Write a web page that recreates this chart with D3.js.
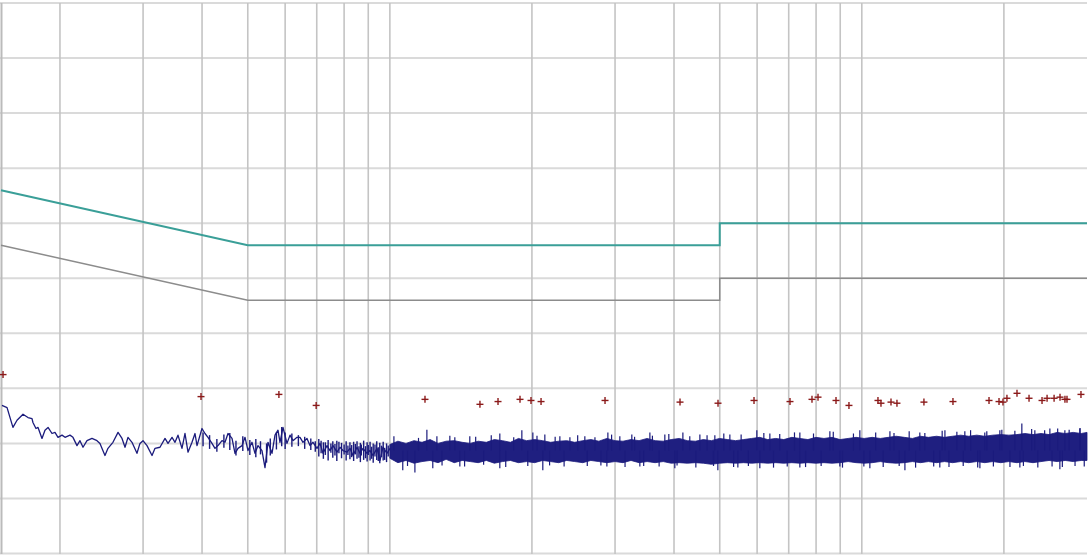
<!DOCTYPE html>
<html><head><meta charset="utf-8">
<script src="https://cdn.jsdelivr.net/npm/d3@7"></script>
<style>html,body{margin:0;padding:0;background:#fff;overflow:hidden}</style>
</head><body><svg id="c" width="1090" height="557"></svg>
<script>
// ---------- data (frequency in MHz, level in dBµV) ----------
const yTicks = [0,10,20,30,40,50,60,70,80,90,100];
const xGridMHz = [0.2,0.3,0.4,0.5,0.6,0.7,0.8,0.9,1,2,3,4,5,6,7,8,9,10,20];
const limitQPFreq = [0.15,0.5,5,5,30];
const limitQPLevel = [66,56,56,60,60];
const limitAVFreq = [0.15,0.5,5,5,30];
const limitAVLevel = [56,46,46,50,50];

const peakFreq = [0.1515,0.398,0.582,0.698,1.187,1.552,1.695,1.887,1.991,2.091,2.857,4.119,4.958,5.910,7.044,7.842,8.076,8.817,9.392,10.82,10.98,11.53,11.87,13.54,15.60,18.60,19.53,19.91,20.30,21.32,22.61,24.09,24.69,25.55,26.30,26.94,27.21,29.13];
const peakLevel = [32.5,28.5,28.9,26.9,28.0,27.1,27.6,28.0,27.8,27.6,27.8,27.5,27.3,27.8,27.6,28.0,28.4,27.8,26.9,27.8,27.3,27.5,27.3,27.5,27.6,27.8,27.6,27.5,28.2,29.1,28.2,27.8,28.2,28.2,28.4,28.0,28.0,28.9];

const traceFreq = [0.1507,0.1545,0.1590,0.1622,0.1670,0.1711,0.1745,0.1753,0.1779,0.1797,0.1832,0.1859,0.1887,0.1924,0.1952,0.1981,0.2020,0.2050,0.2100,0.2131,0.2173,0.2205,0.2238,0.2282,0.2338,0.2396,0.2431,0.2491,0.2528,0.2590,0.2655,0.2707,0.2747,0.2787,0.2842,0.2912,0.2955,0.2999,0.3058,0.3134,0.3180,0.3258,0.3339,0.3388,0.3455,0.3506,0.3557,0.3627,0.3681,0.3735,0.3809,0.3865,0.3903,
0.3999,0.4058,0.4118,0.4199,0.4261,0.4324,0.4409,0.4474,0.4540,0.4630,0.4698,0.4767,0.4861,0.4933,0.5005,0.5104,0.5179,0.5256,0.5359,0.5438,0.5518,0.5627,0.5710,0.5794,0.5851,0.5937,0.6054,0.6144,0.6234,0.6357,0.6451,0.6546,0.6675,0.6773,0.6873,0.7008,0.7112,0.7217,0.7359,0.7467,0.7577,0.7727,0.7841,0.7956,0.8113,0.8233,0.8354,0.8519,0.8644,0.8772,0.8945,0.9076,0.9210,0.9392,0.9530,0.9671,0.9861,1.0007];
const traceLevel = [26.9,26.5,22.9,24.2,25.3,24.7,24.5,23.8,22.7,22.9,20.9,22.4,22.9,21.8,22.0,21.1,21.5,21.1,21.5,21.1,19.6,20.5,19.3,20.5,20.9,20.5,20.0,17.8,19.1,20.2,22.0,20.9,19.3,21.1,20.2,18.2,20.0,20.5,19.6,17.8,19.1,19.3,20.9,20.0,21.1,20.2,21.5,19.1,21.8,18.4,20.2,21.8,19.6,
22.7,21.8,21.1,20.0,19.1,19.6,20.5,20.2,21.8,20.9,18.2,19.1,19.6,21.1,18.7,20.2,18.2,19.6,18.7,15.6,20.2,18.2,21.5,22.4,20.2,22.9,20.0,21.5,20.5,21.1,21.1,20.2,20.9,19.6,20.2,19.1,20.0,18.2,19.6,18.7,19.6,18.4,19.3,18.7,18.4,19.1,17.8,19.3,18.2,19.1,18.2,18.7,17.8,19.1,16.9,19.3,18.2,19.1];

// fine vertical excursions of the trace between 0.4 and 1 MHz
const strokeFreq = [0.402,0.415,0.430,0.445,0.458,0.472,0.488,0.505,0.520,0.532,0.548,0.558,0.575,0.590,0.600,0.620,0.640,0.660,0.680,0.695,0.707,0.715,0.723,0.730,0.740,0.750,0.757,0.765,0.772,0.780,0.790,0.800,0.808,0.815,0.823,0.830,0.838,0.845,0.852,0.860,0.866,0.870,0.880,0.888,0.895,0.900,0.908,0.915,0.922,0.930,0.938,0.945,0.952,0.960,0.968,0.975,0.984,0.992];
const strokeLow  = [19.5,19.0,18.5,19.2,18.8,17.8,18.6,17.9,17.5,18.0,16.5,17.8,18.9,19.5,19.0,19.4,19.5,19.0,18.8,18.5,17.6,18.2,17.2,17.9,16.9,18.3,17.4,17.8,16.8,18.2,17.3,18.0,16.9,17.9,17.1,17.5,16.8,18.0,17.2,17.4,16.6,17.8,17.0,17.3,16.7,17.9,16.9,17.2,16.5,17.6,17.0,16.8,16.4,17.5,16.9,17.0,16.6,17.6];
const strokeHigh = [22.0,21.5,20.8,21.6,21.9,20.5,21.3,20.6,20.8,20.4,20.0,20.9,22.0,23.0,22.0,21.8,21.5,21.2,20.9,20.4,20.8,20.5,20.2,20.2,20.6,20.0,20.4,19.9,20.5,20.3,20.1,19.8,20.4,19.6,20.2,19.7,20.3,19.9,20.4,19.5,20.1,19.8,20.5,19.5,20.2,19.7,20.3,19.4,20.0,19.8,20.4,19.3,20.1,19.6,20.3,19.2,20.0,19.6];

// dense part of the scan (1–30 MHz): envelope of the solid band
const bandFreq = [1.000,1.040,1.082,1.125,1.170,1.217,1.265,1.316,1.369,1.423,1.480,1.539,1.601,1.665,1.732,1.801,1.873,1.948,2.026,2.107,2.191,2.279,2.370,2.465,2.563,2.666,2.772,2.883,2.999,3.119,3.243,3.373,3.508,3.648,3.794,3.946,4.104,4.268,4.439,4.616,4.801,4.993,5.193,5.400,5.617,5.841,6.075,6.318,6.571,6.833,7.107,7.391,7.687,7.994,8.314,8.646,8.992,9.352,9.726,10.115,10.52,10.94,11.38,11.83,12.31,12.80,13.31,13.84,14.40,14.97,15.57,16.20,16.84,17.52,18.22,18.95,19.70,20.49,21.31,22.16,23.05,23.97,24.93,25.93,26.97,28.04,29.17,30.0];
const bandHigh = [19.8,20.4,20.0,20.5,20.2,20.7,20.0,20.4,20.5,20.2,20.0,20.4,20.2,20.7,20.5,20.2,20.9,20.5,20.7,20.5,20.2,20.4,20.5,20.2,20.5,20.7,20.4,20.9,20.5,20.4,20.7,20.5,20.9,20.5,20.4,20.7,20.9,20.5,20.4,20.7,20.5,20.9,20.7,20.5,20.7,20.9,21.1,20.7,20.9,20.7,21.1,20.9,20.7,21.1,20.9,21.1,20.7,20.9,21.1,20.9,21.1,20.9,21.1,21.3,21.1,20.9,21.3,21.1,21.3,21.1,21.3,21.5,21.3,21.5,21.3,21.5,21.6,21.5,21.6,21.8,21.6,21.8,21.6,22.0,21.8,22.0,21.8,22.0];
const bandLow = [17.3,16.5,16.9,16.4,16.7,16.9,16.5,17.1,16.5,16.9,16.7,16.5,16.9,16.4,16.7,16.9,16.5,16.7,16.5,16.9,16.7,16.5,16.9,16.7,16.5,16.9,16.7,16.5,16.7,16.5,16.9,16.5,16.7,16.5,16.7,16.4,16.5,16.4,16.5,16.4,16.2,16.4,16.5,16.4,16.5,16.4,16.5,16.4,16.5,16.4,16.5,16.4,16.5,16.4,16.5,16.4,16.5,16.7,16.5,16.4,16.5,16.7,16.5,16.4,16.5,16.7,16.5,16.7,16.5,16.7,16.5,16.7,16.5,16.7,16.5,16.7,16.5,16.7,16.5,16.7,16.5,16.7,16.9,16.7,16.9,16.7,16.9,16.9];
// individual spikes sticking out of the band
const spikeFreq = [1.198,1.258,1.373,1.477,1.710,1.904,2.009,2.130,2.292,2.407,2.589,2.897,3.071,3.256,3.556,3.825,4.177,4.538,4.882,5.253,5.992,6.385,7.391,8.557,9.904,11.47,13.27,15.00,16.53,18.22,19.61,21.83,23.26,25.03,26.93,28.97,
  1.065,1.130,1.233,1.407,1.710,2.109,2.883,3.386,4.016,4.954,5.462,6.080,7.391,8.984,10.40,12.34,14.63,17.79,21.62,26.28,
  1.02,1.09,1.15,1.29,1.34,1.44,1.52,1.58,1.64,1.76,1.83,1.96,2.05,2.18,2.24,2.34,2.50,2.62,2.72,2.80,2.95,3.15,3.30,3.45,3.60,3.72,3.90,4.06,4.32,4.45,4.70,4.85,5.10,5.35,5.55,5.75,6.20,6.50,6.70,6.95,7.20,7.60,7.90,8.20,8.70,9.10,9.60,10.1,10.7,11.1,11.7,12.0,12.6,13.0,13.6,14.2,14.8,15.3,15.9,16.4,17.0,17.6,18.4,19.0,19.8,20.6,21.1,22.0,22.9,23.6,24.4,25.3,26.0,26.6,27.5,28.3,29.0,29.6];
const spikeLevel = [22.5,21.3,21.1,21.3,21.8,22.4,22.0,21.6,21.3,21.1,21.3,22.0,21.3,21.6,22.0,21.6,22.0,21.6,21.5,21.6,22.4,21.8,22.0,22.2,22.4,22.2,22.0,22.4,22.2,22.0,22.4,23.6,22.4,22.7,22.4,22.7,
  15.1,14.7,15.5,15.8,15.5,15.1,15.8,15.8,15.5,15.1,15.6,15.5,15.6,15.8,15.5,15.1,15.6,15.5,15.6,15.3,
  21.3,15.9,21.0,16.0,21.4,15.8,21.2,16.1,21.5,15.7,21.1,15.9,21.4,16.0,21.2,15.8,21.5,15.9,21.1,16.0,21.6,15.7,21.2,15.9,21.4,15.8,21.7,16.0,21.3,15.6,21.5,15.9,21.8,15.7,21.6,15.9,21.9,15.6,21.7,15.8,22.0,15.7,21.8,15.9,22.1,15.6,21.8,15.8,22.0,15.7,21.9,15.9,22.2,15.6,21.9,15.8,22.3,15.7,22.1,15.9,22.4,15.6,22.2,15.8,22.5,15.7,22.3,15.9,22.6,15.6,22.4,15.8,22.7,15.7,22.5,15.9,22.8,15.8];
const bandCentre = 18.7;

// ---------- drawing ----------
const svg = d3.select('#c');
const x = d3.scaleLog().domain([0.15, 30]).range([1, 1087]);
const y = d3.scaleLinear().domain([0, 100]).range([553.5, 3]);

const g = svg.append('g');
g.selectAll('line.h').data(yTicks).enter().append('line')
  .attr('x1', 0).attr('x2', 1087).attr('y1', d => y(d)).attr('y2', d => y(d))
  .attr('stroke', '#dadada').attr('stroke-width', 2);
g.selectAll('line.v').data(xGridMHz).enter().append('line')
  .attr('x1', d => x(d)).attr('x2', d => x(d)).attr('y1', 3).attr('y2', 554)
  .attr('stroke', '#c4c4c4').attr('stroke-width', 1.6);
g.append('line').attr('x1', x(0.15)+0.5).attr('x2', x(0.15)+0.5).attr('y1', 3).attr('y2', 554)
  .attr('stroke', '#bbbbbb').attr('stroke-width', 2);

svg.append('clipPath').attr('id','pc').append('rect')
  .attr('x', 0).attr('y', 0).attr('width', 1088).attr('height', 556);
const p = svg.append('g').attr('clip-path','url(#pc)');

const lim = d3.line().x(d => x(d[0])).y(d => y(d[1]));
p.append('path').datum(limitAVFreq.map((f,i)=>[f,limitAVLevel[i]]))
  .attr('d', lim).attr('fill','none').attr('stroke','#8c8c8c').attr('stroke-width',1.5);
p.append('path').datum(limitQPFreq.map((f,i)=>[f,limitQPLevel[i]]))
  .attr('d', lim).attr('fill','none').attr('stroke','#3a9f98').attr('stroke-width',2);

const navy = '#1b1b7c';
const band = bandFreq.map((f,i)=>({f, hi: bandHigh[i], lo: bandLow[i]}));
p.append('path').datum(band)
  .attr('d', d3.area().x(d => x(d.f)).y0(d => y(d.lo)).y1(d => y(d.hi)))
  .attr('fill', '#1f1f80').attr('stroke', navy).attr('stroke-width', 0.8);
p.selectAll('line.sp').data(spikeFreq.map((f,i)=>[f, spikeLevel[i]])).enter().append('line')
  .attr('x1', d => x(d[0])).attr('x2', d => x(d[0]))
  .attr('y1', y(bandCentre)).attr('y2', d => y(d[1]))
  .attr('stroke', navy).attr('stroke-width', 1.2);

p.selectAll('line.st').data(strokeFreq.map((f,i)=>[f, strokeLow[i], strokeHigh[i]])).enter().append('line')
  .attr('x1', d => x(d[0])).attr('x2', d => x(d[0]))
  .attr('y1', d => y(d[1])).attr('y2', d => y(d[2]))
  .attr('stroke', navy).attr('stroke-width', 1.4);

p.append('path').datum(traceFreq.map((f,i)=>[f, traceLevel[i]]))
  .attr('d', d3.line().x(d => x(d[0])).y(d => y(d[1])))
  .attr('fill','none').attr('stroke', navy).attr('stroke-width', 1.3).attr('stroke-linejoin','round');

const pk = p.selectAll('g.pk').data(peakFreq.map((f,i)=>[f, peakLevel[i]])).enter().append('g')
  .attr('transform', d => `translate(${x(d[0])},${y(d[1])})`);
pk.append('line').attr('x1',-3.5).attr('x2',3.5).attr('y1',0).attr('y2',0).attr('stroke','#8b1a1a').attr('stroke-width',1.4);
pk.append('line').attr('x1',0).attr('x2',0).attr('y1',-3.5).attr('y2',3.5).attr('stroke','#8b1a1a').attr('stroke-width',1.4);
</script></body></html>
